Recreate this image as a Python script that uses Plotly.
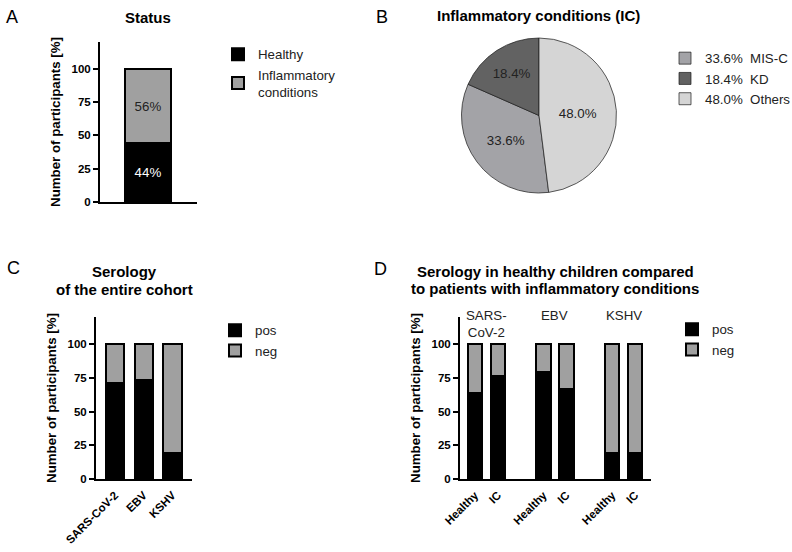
import plotly.graph_objects as go

W, H = 792, 552
FONT = "Liberation Sans, Arial, sans-serif"

# ---------------- data ----------------
status_labels = ["Healthy", "Inflammatory<br>conditions"]
status_values = [44, 56]

ic_labels = ["MIS-C", "KD", "Others"]
ic_values = [33.6, 18.4, 48.0]
ic_colors = ["#a3a3a7", "#626262", "#d5d5d5"]

sero_viruses = ["SARS-CoV-2", "EBV", "KSHV"]
sero_pos = [71, 73, 19.5]
sero_neg = [29, 27, 80.5]

grp_labels = ["Healthy", "IC", "Healthy", "IC", "Healthy", "IC"]
grp_positions = [0, 1, 3, 4, 6, 7]
grp_virus_names = ["SARS-<br>CoV-2", "EBV", "KSHV"]
grp_virus_centers = [0.5, 3.5, 6.5]
grp_pos = [64, 76, 79, 67, 19.5, 19.5]
grp_neg = [36, 24, 21, 33, 80.5, 80.5]

y_ticks = [0, 25, 50, 75, 100]

BLACK = "#000000"
GRAY = "#a0a0a0"


def px_x(p):
    return p / W


def px_y(p):
    return 1 - p / H


fig = go.Figure()

# ---------------- Panel A ----------------
for lab, val, col, tcol in zip(status_labels, status_values, [BLACK, GRAY], ["white", "#222"]):
    fig.add_trace(go.Bar(
        x=[0], y=[val], width=1, name=lab, marker=dict(color=col, line=dict(color=BLACK, width=2)),
        text=[f"{val}%"], textposition="inside", insidetextanchor="middle", textangle=0,
        constraintext="none", textfont=dict(color=tcol, size=13.3, family=FONT),
        xaxis="x", yaxis="y", legend="legend", hoverinfo="skip"))

# ---------------- Panel B ----------------
# Others starts at 12 o'clock clockwise, so MIS-C (first slice) starts where Others ends
pie_rotation = ic_values[2] / sum(ic_values) * 360
fig.add_trace(go.Pie(
    labels=[f"{v:.1f}%  {l}" for l, v in zip(ic_labels, ic_values)],
    values=ic_values, sort=False, direction="clockwise", rotation=pie_rotation,
    marker=dict(colors=ic_colors, line=dict(color="#1a1a1a", width=0.7)),
    text=[f"{v:.1f}%" for v in ic_values], textinfo="text", textposition="inside",
    insidetextorientation="horizontal", textfont=dict(color="#222", size=13.3, family=FONT),
    domain=dict(x=[px_x(461), px_x(617)], y=[px_y(193), px_y(38)]),
    legend="legend2", hoverinfo="skip"))

# ---------------- Panel C ----------------
for lab, vals, col in zip(["pos", "neg"], [sero_pos, sero_neg], [BLACK, GRAY]):
    fig.add_trace(go.Bar(
        x=sero_viruses, y=vals, width=0.63, name=lab,
        marker=dict(color=col, line=dict(color=BLACK, width=2)),
        xaxis="x3", yaxis="y3", legend="legend3", hoverinfo="skip"))

# ---------------- Panel D ----------------
for lab, vals, col in zip(["pos", "neg"], [grp_pos, grp_neg], [BLACK, GRAY]):
    fig.add_trace(go.Bar(
        x=grp_positions, y=vals, width=0.62, name=lab,
        marker=dict(color=col, line=dict(color=BLACK, width=2)),
        xaxis="x4", yaxis="y4", legend="legend4", hoverinfo="skip"))

ytitle = "<b>Number of participants [%]</b>"
yax_common = dict(range=[0, 120], tickvals=y_ticks, showline=True, linecolor=BLACK, linewidth=2,
                  ticks="outside", ticklen=5, tickwidth=2, tickcolor=BLACK,
                  tickfont=dict(family=FONT, size=11.5, color=BLACK, weight="bold"),
                  showgrid=False, zeroline=False, fixedrange=True, automargin=False,
                  title=dict(text=ytitle, font=dict(family=FONT, size=13.3, color=BLACK), standoff=8))
xax_common = dict(showline=True, linecolor=BLACK, linewidth=2, ticks="", showgrid=False,
                  zeroline=False, fixedrange=True, automargin=False, ticklabelstandoff=3,
                  tickfont=dict(family=FONT, size=11.5, color=BLACK, weight="bold"))

leg_common = dict(font=dict(family=FONT, size=13.3, color="#222"), bgcolor="rgba(0,0,0,0)",
                  xanchor="left", yanchor="top", traceorder="normal", itemclick=False)

fig.update_layout(
    width=W, height=H, margin=dict(l=0, r=0, t=0, b=0, autoexpand=False),
    paper_bgcolor="white", plot_bgcolor="white", barmode="stack", bargap=0,
    font=dict(family=FONT, color=BLACK),
    xaxis=dict(xax_common, domain=[px_x(100), px_x(197)], range=[-1.05, 1.07], showticklabels=False),
    yaxis=dict(yax_common, domain=[px_y(202), px_y(42)]),
    xaxis3=dict(xax_common, domain=[px_x(96), px_x(192)], range=[-0.66, 2.68], tickangle=-45,
                anchor="y3"),
    yaxis3=dict(yax_common, domain=[px_y(479), px_y(317)], anchor="x3"),
    xaxis4=dict(xax_common, domain=[px_x(460), px_x(651)], range=[-0.655, 7.7], tickangle=-45,
                tickvals=grp_positions, ticktext=grp_labels, anchor="y4"),
    yaxis4=dict(yax_common, domain=[px_y(479), px_y(317)], anchor="x4"),
    legend=dict(leg_common, x=px_x(218), y=px_y(39)),
    legend2=dict(leg_common, x=px_x(665), y=px_y(43)),
    legend3=dict(leg_common, x=px_x(215), y=px_y(315)),
    legend4=dict(leg_common, x=px_x(672), y=px_y(314)),
)

annotations = []
# panel letters
for letter, xc, yc in [("A", 12, 17), ("B", 382, 17), ("C", 13, 268), ("D", 380, 269)]:
    annotations.append(dict(text=letter, x=px_x(xc), y=px_y(yc), xref="paper", yref="paper",
                            showarrow=False, xanchor="center", yanchor="middle",
                            font=dict(family=FONT, size=18, color=BLACK)))
# titles (one annotation per line for exact line spacing)
title_lines = [("<b>Status</b>", 148, 17),
               ("<b>Inflammatory conditions (IC)</b>", 538, 15),
               ("<b>Serology</b>", 124, 271),
               ("<b>of the entire cohort</b>", 124, 289),
               ("<b>Serology in healthy children compared</b>", 555, 271),
               ("<b>to patients with inflammatory conditions</b>", 555, 288)]
for txt, xc, yc in title_lines:
    annotations.append(dict(text=txt, x=px_x(xc), y=px_y(yc), xref="paper", yref="paper",
                            showarrow=False, xanchor="center", yanchor="middle",
                            font=dict(family=FONT, size=15, color=BLACK)))
# group labels in D
for name, xc in zip(grp_virus_names, grp_virus_centers):
    annotations.append(dict(text=name, x=xc, y=120, xref="x4", yref="y4", showarrow=False,
                            xanchor="center", yanchor="top", yshift=11,
                            font=dict(family=FONT, size=13.3, color="#222")))
fig.update_layout(annotations=annotations)

fig.write_html("out.html")
